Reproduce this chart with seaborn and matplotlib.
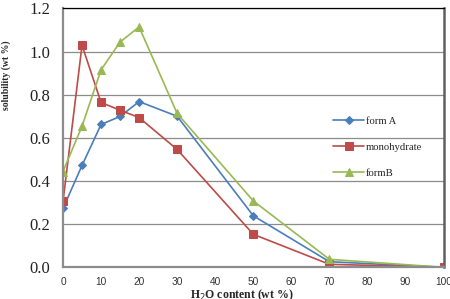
import matplotlib
matplotlib.use("Agg")
import matplotlib.pyplot as plt
import seaborn as sns
import pandas as pd

water = [0, 5, 10, 15, 20, 30, 50, 70, 100]
form_a = [0.273, 0.472, 0.662, 0.699, 0.768, 0.700, 0.239, 0.026, 0.0]
monohydrate = [0.305, 1.029, 0.764, 0.728, 0.694, 0.546, 0.153, 0.014, 0.0]
form_b = [0.444, 0.654, 0.915, 1.044, 1.114, 0.713, 0.308, 0.037, 0.0]
series_names = ["form A", "monohydrate", "formB"]
xticks = [0, 10, 20, 30, 40, 50, 60, 70, 80, 90, 100]
yticks = [0.0, 0.2, 0.4, 0.6, 0.8, 1.0, 1.2]

sns.set_style("white")
plt.rcParams['font.family'] = ['Liberation Serif', 'DejaVu Serif']

fig = plt.figure(figsize=(4.5, 2.99), dpi=100)
ax = fig.add_axes([0.14, 0.106, 0.8456, 0.866])

styles = [("#4A7EBB", "D", 4), ("#BE4B48", "s", 5.5), ("#98B954", "^", 5.5)]
for name, vals, (c, m, ms) in zip(series_names, [form_a, monohydrate, form_b], styles):
    df = pd.DataFrame({"x": water, "y": vals})
    sns.lineplot(data=df, x="x", y="y", ax=ax, color=c, marker=m, markersize=ms,
                 markeredgecolor=c, linewidth=1.2, label=name)

ax.set_xlim(0, 100)
ax.set_ylim(0, 1.2)
ax.set_xticks(xticks)
ax.set_yticks(yticks)
ax.set_yticklabels([f"{v:.1f}" for v in yticks], fontsize=12, color='#222222')
ax.set_xticklabels([str(v) for v in xticks], fontsize=7.3, family=['Liberation Sans', 'DejaVu Sans'],
                   color='#333333')
ax.grid(axis='y', color='#8c8c8c', linewidth=0.9)
ax.set_axisbelow(True)
ax.tick_params(axis='both', which='both', direction='out', length=3, width=0.8, color='#8c8c8c')
ax.tick_params(axis='y', pad=6)
ax.tick_params(axis='x', pad=4)

for s in ['left', 'bottom']:
    ax.spines[s].set_color('#8c8c8c')
    ax.spines[s].set_linewidth(1.6)
ax.spines['right'].set_color('#606060')
ax.spines['right'].set_linewidth(1.8)
ax.spines['top'].set_color('#000000')
ax.spines['top'].set_linewidth(0.9)

ax.set_ylabel("solubility (wt %)", fontsize=7, fontweight='bold')
ax.yaxis.set_label_coords(-0.136, 0.742)
ax.set_xlabel("H$_2$O content (wt %)", fontsize=8.5, fontweight='bold')
ax.xaxis.set_label_coords(0.47, -0.108)
ax.xaxis.label.set_va('center')

leg = ax.legend(loc='upper left', bbox_to_anchor=(0.685, 0.62), frameon=False,
                fontsize=7.7, labelspacing=1.55, handlelength=2.9, handletextpad=0.15)

fig.savefig("out.png", dpi=100)
